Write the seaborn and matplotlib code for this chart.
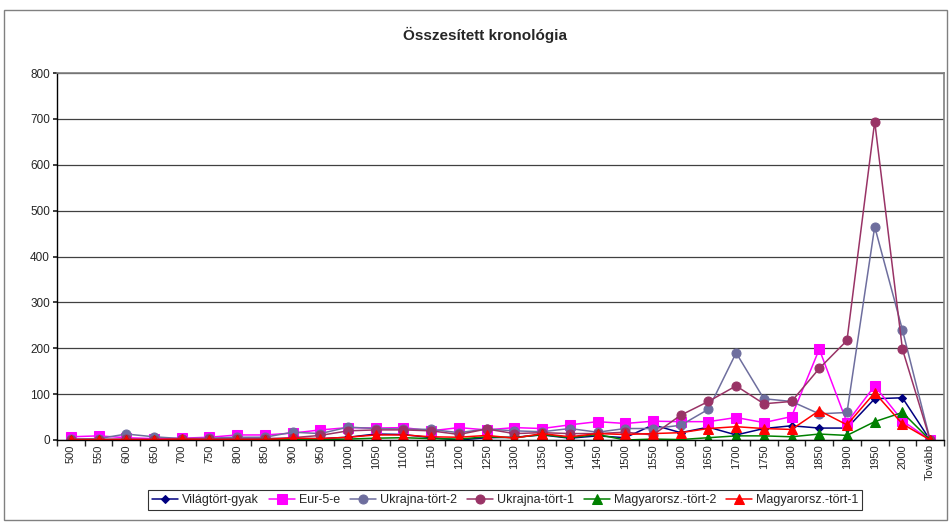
import numpy as np
import pandas as pd
import matplotlib
matplotlib.use("Agg")
import matplotlib.pyplot as plt
import seaborn as sns
from matplotlib.patches import Rectangle

sns.set_theme(style="white")
plt.rcParams['font.family'] = ['Liberation Sans', 'DejaVu Sans']

# ---- data ----
categories = [str(y) for y in range(500, 2001, 50)] + ['Tovább']

vilagtort_gyak = [1, 1, 1, 1, 1, 2, 2, 2, 3, 3, 6, 13, 12, 5, 0, 5,
                  6, 11, 4, 9, 5, 33, 16, 28, 11, 25, 31, 26, 26, 90, 92, 0]
eur_5_e = [7, 9, 5, 3, 4, 6, 11, 11, 15, 22, 27, 26, 27, 20, 27, 22,
           27, 25, 33, 40, 36, 41, 40, 40, 49, 38, 51, 198, 38, 118, 42, 0]
ukrajna_tort_2 = [2, 3, 13, 7, 3, 4, 6, 6, 17, 14, 28, 25, 24, 23, 16, 24,
                  20, 18, 25, 17, 25, 25, 32, 67, 190, 90, 84, 57, 60, 465, 240, 0]
ukrajna_tort_1 = [1, 1, 2, 1, 2, 2, 3, 3, 5, 10, 20, 22, 22, 20, 12, 24,
                  14, 16, 14, 14, 17, 11, 54, 84, 118, 79, 84, 156, 217, 694, 198, 0]
magyar_tort_2 = [0, 0, 0, 0, 0, 0, 0, 1, 1, 1, 2, 4, 5, 3, 2, 7,
                 5, 12, 5, 12, 0, 2, 1, 5, 9, 9, 7, 13, 10, 40, 60, 0]
magyar_tort_1 = [1, 1, 1, 1, 2, 1, 1, 1, 4, 3, 6, 11, 11, 7, 6, 10,
                 4, 14, 7, 14, 12, 14, 16, 25, 29, 25, 23, 64, 33, 103, 35, 0]

series = [
    ('Világtört-gyak', vilagtort_gyak, '#000080', 'D', 4.5),
    ('Eur-5-e', eur_5_e, '#FF00FF', 's', 7),
    ('Ukrajna-tört-2', ukrajna_tort_2, '#6E6E9E', 'o', 6.5),
    ('Ukrajna-tört-1', ukrajna_tort_1, '#993366', 'o', 6.5),
    ('Magyarorsz.-tört-2', magyar_tort_2, '#008000', '^', 7),
    ('Magyarorsz.-tört-1', magyar_tort_1, '#FF0000', '^', 7),
]

fig = plt.figure(figsize=(9.51, 5.24), dpi=100)
ax = fig.add_axes([57 / 951, 1 - 440 / 524, 887 / 951, 367 / 524])

x = np.arange(len(categories))
for name, vals, color, marker, ms in series:
    df = pd.DataFrame({'x': x, 'y': vals})
    sns.lineplot(data=df, x='x', y='y', ax=ax, color=color, marker=marker,
                 markersize=ms, markeredgecolor=color, linewidth=1.1,
                 label=name, sort=False)

# axes formatting, Excel style
ax.set_xlim(-0.5, len(categories) - 0.5)
ax.set_ylim(0, 800)
ax.set_yticks(range(0, 801, 100))
ax.set_xticks(x)
ax.set_xticklabels(categories, rotation=90, fontsize=8)
ax.tick_params(axis='y', labelsize=8.5, length=3, direction='out', left=True, pad=2)
ax.tick_params(axis='x', length=0, pad=3)
ax.set_xticks(np.arange(-0.5, len(categories), 1), minor=True)
ax.tick_params(axis='x', which='minor', length=4, direction='out', bottom=True)
ax.set_xlabel('')
ax.set_ylabel('')
ax.yaxis.grid(True, color='#404040', linewidth=0.9)
ax.set_axisbelow(True)
for side in ['top', 'right']:
    ax.spines[side].set_color('#808080')
    ax.spines[side].set_linewidth(1.2)
for side in ['left', 'bottom']:
    ax.spines[side].set_color('black')
    ax.spines[side].set_linewidth(1.0)

fig.text(0.51, 1 - 35 / 524, 'Összesített kronológia', ha='center', va='center',
         fontsize=11, fontweight='bold')

ax.get_legend().remove()
handles, labels = ax.get_legend_handles_labels()
leg = fig.legend(handles, labels, loc='center', ncol=6, fontsize=9,
                 bbox_to_anchor=(505 / 951, 1 - 500 / 524), frameon=True,
                 fancybox=False, edgecolor='black', handlelength=2.1,
                 handletextpad=0.3, columnspacing=0.8, borderpad=0.3)
leg.get_frame().set_linewidth(0.8)

# outer chart-area border
fig.patches.append(Rectangle((4 / 951, 4 / 524), 943 / 951, 510 / 524,
                             transform=fig.transFigure, fill=False,
                             edgecolor='#808080', linewidth=1.0))

plt.savefig('out.png', dpi=100)
